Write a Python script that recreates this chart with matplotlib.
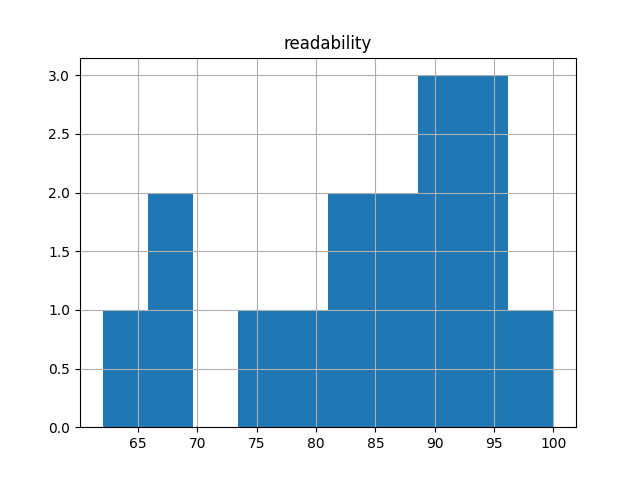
import matplotlib
matplotlib.use("Agg")
import matplotlib.pyplot as plt
import pandas as pd

readability = [62, 67, 68, 75, 79, 82, 84, 86, 87, 90, 91, 92, 94, 95, 96, 100]

df = pd.DataFrame({"readability": readability})
fig, ax = plt.subplots(figsize=(6.4, 4.8), dpi=100)
df.hist(column="readability", ax=ax, bins=10)
fig.savefig("out.png")
